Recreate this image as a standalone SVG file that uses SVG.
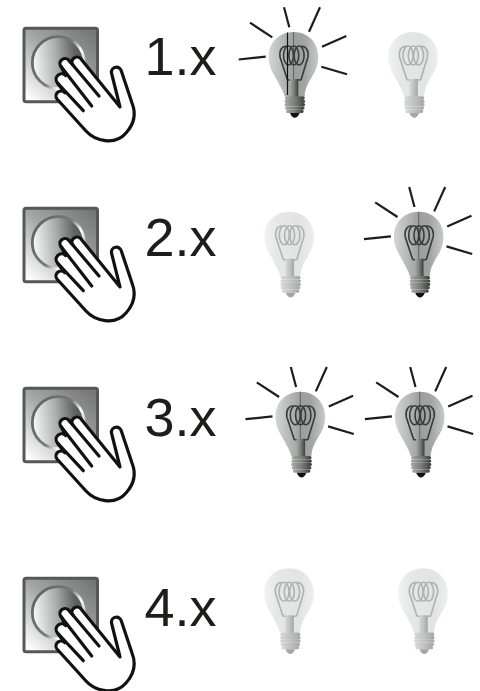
<svg xmlns="http://www.w3.org/2000/svg" xmlns:xlink="http://www.w3.org/1999/xlink" width="480" height="691" viewBox="0 0 480 691">
<style>
.lbl{font-family:"Liberation Sans",Arial,sans-serif;font-size:54px;fill:#1d1d1b}
.ray{stroke:#1d1d1b;stroke-width:2.2;fill:none;stroke-linecap:butt}
.hand{fill:#fff;stroke:#111;stroke-width:3.2;stroke-linejoin:round;stroke-linecap:round}
.slit{fill:none;stroke:#111;stroke-width:3.2;stroke-linecap:round}
.fil{fill:none;stroke-width:1.6}
</style>
<defs>
<linearGradient id="plate" x1="1" y1="0" x2="0.1" y2="1"><stop offset="0" stop-color="#6d7170"/><stop offset="0.5" stop-color="#a4a6a5"/><stop offset="1" stop-color="#ffffff"/></linearGradient>
<linearGradient id="knob" x1="0" y1="0.2" x2="1" y2="0.1"><stop offset="0" stop-color="#f4f5f5"/><stop offset="0.45" stop-color="#a9abaa"/><stop offset="0.8" stop-color="#5e6261"/><stop offset="1" stop-color="#525655"/></linearGradient>
<linearGradient id="ring" x1="0" y1="0" x2="1" y2="0.6"><stop offset="0" stop-color="#5c5e5d"/><stop offset="0.6" stop-color="#7a7c7b"/><stop offset="0.8" stop-color="#fff"/><stop offset="1" stop-color="#bbb"/></linearGradient>
<linearGradient id="glassOn" x1="0" y1="0" x2="1" y2="0"><stop offset="0" stop-color="#d4d6d5"/><stop offset="0.4" stop-color="#aaacab"/><stop offset="0.5" stop-color="#9c9e9d"/><stop offset="0.72" stop-color="#a2a4a3"/><stop offset="1" stop-color="#c8cac9"/></linearGradient>
<linearGradient id="glassOff" x1="0" y1="0" x2="1" y2="0"><stop offset="0" stop-color="#f1f3f2"/><stop offset="0.25" stop-color="#e6e8e7"/><stop offset="0.7" stop-color="#e2e4e3"/><stop offset="1" stop-color="#eceeed"/></linearGradient>
<linearGradient id="metalOn" x1="0" y1="0" x2="1" y2="0"><stop offset="0" stop-color="#a8aaa8"/><stop offset="0.5" stop-color="#7c7e7c"/><stop offset="1" stop-color="#3c3e3c"/></linearGradient>
<linearGradient id="metalOff" x1="0" y1="0" x2="1" y2="0"><stop offset="0" stop-color="#d8dad9"/><stop offset="0.5" stop-color="#c0c2c1"/><stop offset="1" stop-color="#a4a6a5"/></linearGradient>
<path id="glass" d="M0 0C15 0 24.800 11 24.800 25C24.800 38 18 44 14 53C12 57 11.500 60 11 64.500L-9 64.500C-10 60-12 57-14 53C-18 44-24.800 38-24.800 25C-24.800 11-15 0 0 0Z"/>
<g id="coil">
<path d="M-6 48L-13.500 25C-14.500 18-11 13.500-7 14.500M7.500 48L14.500 25C15.500 18 12 13.500 7.500 14.500M-6 48H-3M7.500 48H4.500"/>
<ellipse cx="-5" cy="23.500" rx="5" ry="9.500"/>
<ellipse cx="0.300" cy="23.500" rx="5" ry="9.500"/>
<ellipse cx="5.600" cy="23.500" rx="5" ry="9.500"/>
</g>
<g id="screw">
<rect x="-8.700" y="64.300" width="20" height="3.600" rx="1.800"/>
<rect x="-9" y="67.700" width="20.600" height="3.400" rx="1.700"/>
<rect x="-9" y="71" width="20.600" height="3.400" rx="1.700"/>
<rect x="-8.500" y="74.400" width="19.600" height="3.400" rx="1.700"/>
<rect x="-7.500" y="77.700" width="17.600" height="3.300" rx="1.600"/>
</g>
<g id="bulbOn">
<use xlink:href="#glass" href="#glass" fill="url(#glassOn)"/>
<path d="M0 0V47" stroke="#555" stroke-width="0.800"/>
<use xlink:href="#coil" href="#coil" class="fil" stroke="#3a3a3a"/>
<rect x="-3.700" y="47" width="8.500" height="18" fill="url(#metalOn)"/>
<use xlink:href="#screw" href="#screw" fill="url(#metalOn)"/>
<path d="M-3.500 81C-2.500 84-.5 85.700 1.300 85.700C3 85.700 5 84 6.200 81Z" fill="#111"/>
</g>
<g id="bulbOff">
<use xlink:href="#glass" href="#glass" fill="url(#glassOff)"/>
<use xlink:href="#coil" href="#coil" class="fil" stroke="#b0b2b1"/>
<rect x="-3.700" y="47" width="8.500" height="18" fill="url(#metalOff)"/>
<use xlink:href="#screw" href="#screw" fill="url(#metalOff)"/>
<path d="M-3.500 81C-2.500 84-.5 85.700 1.300 85.700C3 85.700 5 84 6.200 81Z" fill="#a4a6a5"/>
</g>
<g id="rays" class="ray">
<path d="M-54.800 27.500L-27.800 24.700M-43.500-9.300L-21.200 5.300M-9.500-24.700L-4.200-4.700M26.500-24.700L15.500-.3M52.800 4L28.500 14.700M53.500 42.300L27.800 34.700"/>
</g>
<g id="switch">
<rect x="24" y="28.200" width="73.500" height="73.500" rx="2" fill="url(#plate)" stroke="#555857" stroke-width="3"/>
<circle cx="58.300" cy="62.700" r="26" fill="url(#knob)" stroke="url(#ring)" stroke-width="2.800"/>
<path class="hand" d="M57.200 99.250L86 131C95 141 115 146 126 133C135 123 136 113 132 103L121.500 71.500A5 5 0 0 0 111.500 73L120 107L80.800 58.750A5 5 0 0 0 73.200 65.250L68.800 60.250A5 5 0 0 0 61.200 66.750L65.700 75.600A5 5 0 0 0 57.700 83.250L64.800 92.750A5 5 0 0 0 57.200 99.250Z"/>
<path class="slit" d="M68.800 60.250L99 96M61.200 66.750L91.700 106M57.700 83.250L83.300 110.700"/>
</g>
</defs>
<g id="connectors"/>
<g id="row1-switch"><use xlink:href="#switch" href="#switch"/></g>
<g id="row1-label"><text class="lbl" x="144.500" y="75">1.x</text></g>
<g id="row1-bulb1"><g transform="translate(293.500 32)"><use xlink:href="#bulbOn" href="#bulbOn"/><use xlink:href="#rays" href="#rays"/><path d="M-6 .5V63" stroke="#111" stroke-width="1.200"/></g></g>
<g id="row1-bulb2"><use xlink:href="#bulbOff" href="#bulbOff" transform="translate(413 32)"/></g>
<g id="row2-switch"><use xlink:href="#switch" href="#switch" transform="translate(0 180)"/></g>
<g id="row2-label"><text class="lbl" x="144.500" y="256">2.x</text></g>
<g id="row2-bulb1"><use xlink:href="#bulbOff" href="#bulbOff" transform="translate(289.300 211.700)"/></g>
<g id="row2-bulb2"><g transform="translate(418.700 211.700)"><use xlink:href="#bulbOn" href="#bulbOn"/><use xlink:href="#rays" href="#rays"/></g></g>
<g id="row3-switch"><use xlink:href="#switch" href="#switch" transform="translate(0 360)"/></g>
<g id="row3-label"><text class="lbl" x="144.500" y="436">3.x</text></g>
<g id="row3-bulb1"><g transform="translate(300.300 391.700)"><use xlink:href="#bulbOn" href="#bulbOn"/><use xlink:href="#rays" href="#rays"/></g></g>
<g id="row3-bulb2"><g transform="translate(419.700 391.700)"><use xlink:href="#bulbOn" href="#bulbOn"/><use xlink:href="#rays" href="#rays"/></g></g>
<g id="row4-switch"><use xlink:href="#switch" href="#switch" transform="translate(0 550)"/></g>
<g id="row4-label"><text class="lbl" x="144.500" y="626">4.x</text></g>
<g id="row4-bulb1"><use xlink:href="#bulbOff" href="#bulbOff" transform="translate(289 568.300)"/></g>
<g id="row4-bulb2"><use xlink:href="#bulbOff" href="#bulbOff" transform="translate(423 568.300)"/></g>
</svg>
